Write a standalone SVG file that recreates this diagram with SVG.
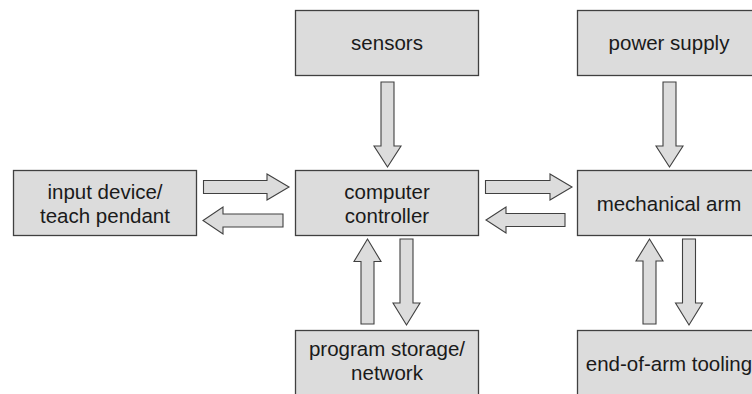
<svg xmlns="http://www.w3.org/2000/svg" width="752" height="394" viewBox="0 0 752 394">
  <style>
    .box { fill: #dcdcdc; stroke: #404040; stroke-width: 1.3; }
    .arrow { fill: #dcdcdc; stroke: #404040; stroke-width: 1.1; stroke-linejoin: miter; }
    .label { font-family: "Liberation Sans", Arial, sans-serif; font-size: 20.5px; fill: #1a1a1a; text-anchor: middle; }
  </style>
  <rect width="752" height="394" fill="#ffffff"/>

  <g id="sensors">
    <rect class="box" x="295.5" y="10.5" width="183" height="65"/>
    <text class="label" x="387" y="50">sensors</text>
  </g>

  <g id="power-supply">
    <rect class="box" x="577.5" y="10.5" width="183" height="65"/>
    <text class="label" x="669" y="50">power supply</text>
  </g>

  <g id="input-device">
    <rect class="box" x="13.5" y="170.5" width="183" height="65"/>
    <text class="label" x="105" y="198.5">input device/</text>
    <text class="label" x="105" y="222.5">teach pendant</text>
  </g>

  <g id="computer-controller">
    <rect class="box" x="295.5" y="170.5" width="183" height="65"/>
    <text class="label" x="387" y="198.5">computer</text>
    <text class="label" x="387" y="222.5">controller</text>
  </g>

  <g id="mechanical-arm">
    <rect class="box" x="577.5" y="170.5" width="183" height="65"/>
    <text class="label" x="669" y="210.5">mechanical arm</text>
  </g>

  <g id="program-storage">
    <rect class="box" x="295.5" y="330.5" width="183" height="66"/>
    <text class="label" x="387" y="355.5">program storage/</text>
    <text class="label" x="387" y="379.5">network</text>
  </g>

  <g id="end-of-arm-tooling">
    <rect class="box" x="577.5" y="330.5" width="183" height="66"/>
    <text class="label" x="669" y="370.5">end-of-arm tooling</text>
  </g>

  <g id="connectors">
    <!-- input device <-> controller -->
    <polygon class="arrow" points="203.5,180.5 267,180.5 267,174 289,187 267,200 267,193.5 203.5,193.5"/>
    <polygon class="arrow" points="283,214 223,214 223,207 203,220.5 223,234 223,227 283,227"/>
    <!-- controller <-> mechanical arm -->
    <polygon class="arrow" points="485.5,180.5 550,180.5 550,174 572,187 550,200 550,193.5 485.5,193.5"/>
    <polygon class="arrow" points="565,213.5 506,213.5 506,207 486,220 506,233 506,226.5 565,226.5"/>
    <!-- sensors -> controller -->
    <polygon class="arrow" points="381,82 394,82 394,146 401,146 387.5,167 374,146 381,146"/>
    <!-- power supply -> mechanical arm -->
    <polygon class="arrow" points="663,82 676,82 676,146 683,146 669.5,167 656,146 663,146"/>
    <!-- program storage <-> controller -->
    <polygon class="arrow" points="361,324 374,324 374,261.5 381,261.5 367.5,239 354,261.5 361,261.5"/>
    <polygon class="arrow" points="400,239 413,239 413,303 420,303 406.5,325 393,303 400,303"/>
    <!-- end-of-arm tooling <-> mechanical arm -->
    <polygon class="arrow" points="643,324 656,324 656,261 663,261 649.5,239 636,261 643,261"/>
    <polygon class="arrow" points="682.5,239 695.5,239 695.5,303 702.5,303 689,325 675.5,303 682.5,303"/>
  </g>
</svg>
